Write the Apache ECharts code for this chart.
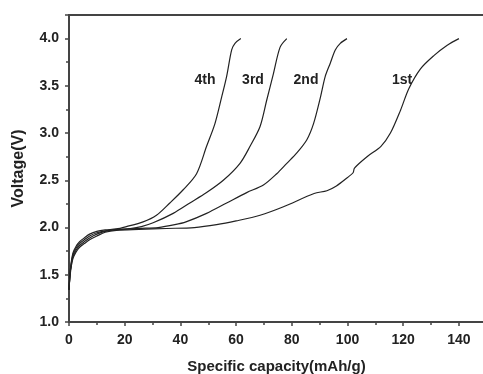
<!DOCTYPE html>
<html>
<head>
<meta charset="utf-8">
<script src="https://cdn.jsdelivr.net/npm/echarts@6/dist/echarts.min.js"></script>
<style>
  html, body { margin: 0; padding: 0; background: #fff; }
  #chart { width: 483px; height: 374px; }
</style>
</head>
<body>
<div id="chart"></div>
<script>
// cycle data: capacity (mAh/g) and voltage (V)
const cap1 = [0, 0.5, 1.4, 2.5, 3.8, 5.5, 7.4, 10, 13, 17, 25, 35, 45, 53, 60, 68.6, 77, 88, 92.6, 96, 100, 102, 102.5, 107, 112, 115.4, 119, 122, 126.2, 131, 135.8, 140];
const volt1 = [1.34, 1.52, 1.67, 1.74, 1.79, 1.83, 1.87, 1.91, 1.95, 1.97, 1.98, 1.99, 2.0, 2.03, 2.07, 2.13, 2.22, 2.36, 2.39, 2.44, 2.53, 2.58, 2.63, 2.75, 2.86, 3.0, 3.24, 3.47, 3.68, 3.82, 3.93, 4.0];

const cap2 = [0, 0.5, 1.4, 2.5, 3.8, 5.5, 7.4, 10, 13, 17, 25, 32, 38, 42, 49.4, 56.6, 63.8, 69.8, 74.6, 78.2, 81.8, 85.4, 87.8, 90.2, 92, 93.8, 95.6, 97.4, 99.8];
const volt2 = [1.34, 1.54, 1.69, 1.76, 1.81, 1.85, 1.89, 1.93, 1.96, 1.975, 1.99, 2.0, 2.03, 2.06, 2.15, 2.26, 2.37, 2.45, 2.57, 2.68, 2.79, 2.93, 3.10, 3.37, 3.6, 3.74, 3.88, 3.95, 4.0];

const cap3 = [0, 0.5, 1.4, 2.5, 3.8, 5.5, 7.4, 10, 13, 17, 22, 26, 30.2, 37.4, 43.4, 49.4, 55.4, 61.4, 65, 68.6, 71, 73.4, 75.8, 78.2];
const volt3 = [1.34, 1.55, 1.71, 1.78, 1.83, 1.87, 1.91, 1.945, 1.965, 1.98, 1.99, 2.01, 2.05, 2.15, 2.26, 2.37, 2.50, 2.68, 2.86, 3.07, 3.35, 3.63, 3.91, 4.0];

const cap4 = [0, 0.5, 1.4, 2.5, 3.8, 5.5, 7.4, 10, 13, 17, 20.6, 26.6, 31.4, 36.2, 41, 45.8, 49.4, 52.4, 54.8, 56.6, 58.4, 59.6, 61.7];
const volt4 = [1.34, 1.56, 1.73, 1.80, 1.85, 1.89, 1.93, 1.96, 1.975, 1.985, 2.01, 2.06, 2.13, 2.26, 2.40, 2.57, 2.86, 3.10, 3.38, 3.6, 3.88, 3.95, 4.0];

const cycleNames = ['1st', '2nd', '3rd', '4th'];
const caps = [cap1, cap2, cap3, cap4];
const volts = [volt1, volt2, volt3, volt4];

const font = 'Liberation Sans, Arial, sans-serif';
const ink = '#222';

const chart = echarts.init(document.getElementById('chart'));

const series = cycleNames.map((name, i) => ({
  name: name,
  type: 'line',
  data: caps[i].map((c, j) => [c, volts[i][j]]),
  showSymbol: false,
  smooth: 0.3,
  lineStyle: { color: ink, width: 1.2 },
  z: 3
}));

// cycle labels placed in pixels next to each curve
const labelPos = [[402, 80], [306, 80], [253, 80], [205, 80]];

const option = {
  animation: false,
  backgroundColor: '#fff',
  grid: {
    left: 69, right: -1, top: 15, bottom: 52,
    outerBoundsMode: 'none',
    show: true, borderColor: '#444', borderWidth: 2
  },
  xAxis: {
    type: 'value',
    min: 0, max: 149, interval: 20,
    name: 'Specific capacity(mAh/g)',
    nameLocation: 'middle',
    nameGap: 37,
    nameTextStyle: { fontFamily: font, fontWeight: 'bold', fontSize: 15, color: ink },
    axisLine: { lineStyle: { color: '#444', width: 2 } },
    axisTick: { show: true, inside: false, length: 4, lineStyle: { color: '#444', width: 1.5 } },
    minorTick: { show: true, splitNumber: 2, length: 3, lineStyle: { color: '#444', width: 1.5 } },
    splitLine: { show: false },
    axisLabel: {
      showMaxLabel: false, margin: 11,
      fontFamily: font, fontWeight: 'bold', fontSize: 14, color: ink
    }
  },
  yAxis: {
    type: 'value',
    min: 1, max: 4.25, interval: 0.5,
    name: 'Voltage(V)',
    nameLocation: 'middle',
    nameGap: 42,
    nameTextStyle: { fontFamily: font, fontWeight: 'bold', fontSize: 16, color: ink },
    axisLine: { lineStyle: { color: '#444', width: 2 } },
    axisTick: { show: true, inside: false, length: 4, lineStyle: { color: '#444', width: 1.5 } },
    minorTick: { show: true, splitNumber: 2, length: 3, lineStyle: { color: '#444', width: 1.5 } },
    splitLine: { show: false },
    axisLabel: {
      showMaxLabel: false, margin: 10,
      formatter: v => v.toFixed(1),
      fontFamily: font, fontWeight: 'bold', fontSize: 14, color: ink
    }
  },
  graphic: cycleNames.map((name, i) => ({
    type: 'text',
    x: labelPos[i][0], y: labelPos[i][1],
    style: {
      text: name, fill: ink,
      font: 'bold 14px ' + font,
      textAlign: 'center', textVerticalAlign: 'middle'
    }
  })),
  series: series
};

chart.setOption(option);
</script>
</body>
</html>
